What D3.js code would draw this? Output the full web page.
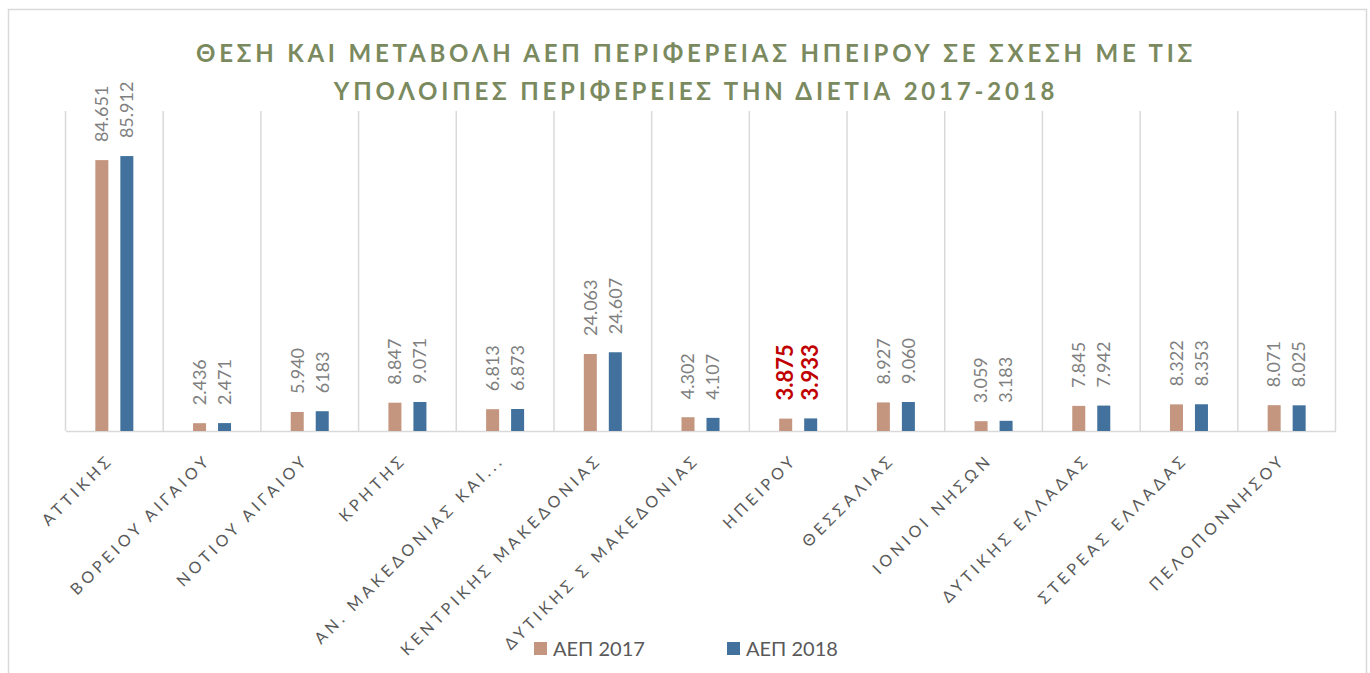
<!DOCTYPE html>
<html>
<head>
<meta charset="utf-8">
<script src="https://cdn.jsdelivr.net/npm/d3@7"></script>
<style>
  html, body { margin: 0; padding: 0; background: #fff; }
  svg { display: block; }
</style>
</head>
<body>
<svg id="chart" width="1370" height="673"></svg>
<script>
const categories = ["ΑΤΤΙΚΗΣ", "ΒΟΡΕΙΟΥ  ΑΙΓΑΙΟΥ", "ΝΟΤΙΟΥ ΑΙΓΑΙΟΥ", "ΚΡΗΤΗΣ", "ΑΝ. ΜΑΚΕΔΟΝΙΑΣ ΚΑΙ...", "ΚΕΝΤΡΙΚΗΣ ΜΑΚΕΔΟΝΙΑΣ", "ΔΥΤΙΚΗΣ Σ ΜΑΚΕΔΟΝΙΑΣ", "ΗΠΕΙΡΟΥ", "ΘΕΣΣΑΛΙΑΣ", "ΙΟΝΙΟΙ ΝΗΣΩΝ", "ΔΥΤΙΚΗΣ ΕΛΛΑΔΑΣ", "ΣΤΕΡΕΑΣ ΕΛΛΑΔΑΣ", "ΠΕΛΟΠΟΝΝΗΣΟΥ"];
const values2017 = [84.651, 2.436, 5.940, 8.847, 6.813, 24.063, 4.302, 3.875, 8.927, 3.059, 7.845, 8.322, 8.071];
const values2018 = [85.912, 2.471, 6.183, 9.071, 6.873, 24.607, 4.107, 3.933, 9.060, 3.183, 7.942, 8.353, 8.025];
const labels2017 = ["84.651", "2.436", "5.940", "8.847", "6.813", "24.063", "4.302", "3.875", "8.927", "3.059", "7.845", "8.322", "8.071"];
const labels2018 = ["85.912", "2.471", "6183", "9.071", "6.873", "24.607", "4.107", "3.933", "9.060", "3.183", "7.942", "8.353", "8.025"];
const seriesNames = ["ΑΕΠ 2017", "ΑΕΠ 2018"];
const highlight = "ΗΠΕΙΡΟΥ";
const titleLines = ["ΘΕΣΗ ΚΑΙ ΜΕΤΑΒΟΛΗ ΑΕΠ ΠΕΡΙΦΕΡΕΙΑΣ ΗΠΕΙΡΟΥ ΣΕ ΣΧΕΣΗ ΜΕ ΤΙΣ", "ΥΠΟΛΟΙΠΕΣ ΠΕΡΙΦΕΡΕΙΕΣ ΤΗΝ ΔΙΕΤΙΑ 2017-2018"];

const colors = ["#C4957F", "#41719C"];
const font = "Lato, 'Open Sans', sans-serif";

const svg = d3.select("#chart");
svg.append("rect").attr("x", 8.5).attr("y", 9.5).attr("width", 1358).attr("height", 680)
  .attr("fill", "#fff").attr("stroke", "#d9d9d9").attr("stroke-width", 1.5);

const plot = { left: 65.5, right: 1335.5, top: 111, bottom: 431 };
const x = d3.scaleBand().domain(categories).range([plot.left, plot.right]).paddingInner(0).paddingOuter(0);
const y = d3.scaleLinear().domain([0, 100]).range([plot.bottom, plot.top]);
const barW = 13, gap = 12;
const sub = d3.scaleOrdinal().domain([0, 1]).range([-(gap / 2 + barW), gap / 2]);

// vertical gridlines at category boundaries
const bounds = categories.map(c => x(c)).concat([plot.right]);
svg.append("g").selectAll("line").data(bounds).join("line")
  .attr("x1", d => d).attr("x2", d => d).attr("y1", plot.top).attr("y2", plot.bottom)
  .attr("stroke", "#d9d9d9").attr("stroke-width", 1.5);

// baseline axis
const xAxis = d3.axisBottom(x).tickSize(0).tickFormat("");
const ax = svg.append("g").attr("transform", `translate(0,${plot.bottom})`).call(xAxis);
ax.select(".domain").attr("stroke", "#d9d9d9").attr("stroke-width", 1.5);

// bars
const series = [values2017, values2018];
const labelSeries = [labels2017, labels2018];
series.forEach((vals, si) => {
  const g = svg.append("g");
  g.selectAll("rect").data(vals).join("rect")
    .attr("x", (d, i) => x(categories[i]) + x.bandwidth() / 2 + sub(si))
    .attr("y", d => y(d))
    .attr("width", barW)
    .attr("height", d => y(0) - y(d))
    .attr("fill", colors[si]);
  g.selectAll("text").data(vals).join("text")
    .attr("transform", (d, i) => {
      const cx = x(categories[i]) + x.bandwidth() / 2 + sub(si) + barW / 2;
      return `translate(${cx},${y(d) - 18}) rotate(-90)`;
    })
    .attr("dy", "0.35em")
    .attr("text-anchor", "start")
    .attr("font-family", font)
    .attr("font-size", (d, i) => categories[i] === highlight ? 22 : 18)
    .attr("font-weight", (d, i) => categories[i] === highlight ? "bold" : "normal")
    .attr("fill", (d, i) => categories[i] === highlight ? "#C00000" : "#7f7f7f")
    .text((d, i) => labelSeries[si][i]);
});

// category labels
svg.append("g").selectAll("text").data(categories).join("text")
  .attr("transform", d => `translate(${x(d) + x.bandwidth() / 2 - 4},${plot.bottom + 26}) rotate(-45)`)
  .attr("text-anchor", "end")
  .attr("dy", "0.35em")
  .attr("font-family", font)
  .attr("font-size", 16)
  .attr("letter-spacing", 3.9)
  .attr("fill", "#595959")
  .text(d => d);

// title
svg.append("g").selectAll("text").data(titleLines).join("text")
  .attr("x", 696).attr("y", (d, i) => 62 + i * 38)
  .attr("text-anchor", "middle")
  .attr("font-family", font)
  .attr("font-size", 24)
  .attr("font-weight", "bold")
  .attr("letter-spacing", 3.8)
  .attr("fill", "#7A8A5E")
  .text(d => d);

// legend
const legX = [534, 727];
const leg = svg.append("g").selectAll("g").data(seriesNames).join("g")
  .attr("transform", (d, i) => `translate(${legX[i]},642)`);
leg.append("rect").attr("width", 13).attr("height", 13).attr("fill", (d, i) => colors[i]);
leg.append("text").attr("x", 19).attr("y", 6.5).attr("dy", "0.35em")
  .attr("font-family", font).attr("font-size", 20).attr("fill", "#595959").text(d => d);
</script>
</body>
</html>
